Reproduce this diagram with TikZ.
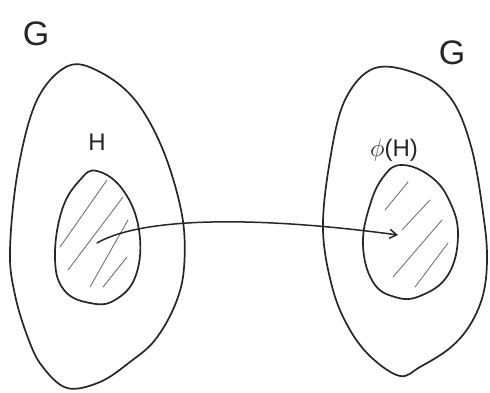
\documentclass[tikz,border=0pt]{standalone}
\usepackage{fontspec}
\setmainfont{Liberation Sans}
\usetikzlibrary{arrows.meta}
\begin{document}
\begin{tikzpicture}[x=1pt,y=-1pt,
  pen/.style={line width=1.7pt, draw=black!85, line join=round, line cap=round},
  hatch/.style={line width=0.9pt, draw=black!55, line cap=round},
  label/.style={font=\fontsize{24}{26}\selectfont, text=black!85, inner sep=0pt},
  biglabel/.style={font=\fontsize{34}{36}\selectfont, text=black!85, inner sep=0pt}]
\useasboundingbox (0,0) rectangle (490,393);

% left group G with subgroup H
\draw[pen] plot[smooth cycle, tension=0.6] coordinates {
  (68,66) (100,72) (135,100) (163,150) (182,215) (184,268) (175,305)
  (155,340) (130,362) (100,382) (67,388) (42,366) (28,338) (15,295)
  (10,250) (18,170) (37,100)};
\draw[pen] plot[smooth cycle, tension=0.7] coordinates {
  (97,171) (123,190) (139,230) (136,275) (115,300) (90,303) (64,290)
  (55,258) (62,210) (80,180)};
\draw[hatch] (60,247) -- (107,180);
\draw[hatch] (68,270) -- (123,197);
\draw[hatch] (90,287) -- (128,220);
\draw[hatch] (103,287) -- (127,257);

% right group G with the image phi(H)
\draw[pen] plot[smooth cycle, tension=0.6] coordinates {
  (375,68) (420,75) (452,100) (472,150) (484,220) (487,260) (483,295)
  (470,325) (450,348) (420,367) (400,376) (372,358) (350,330) (333,290)
  (323,230) (330,160) (345,100)};
\draw[pen] plot[smooth cycle, tension=0.7] coordinates {
  (402,165) (430,176) (449,200) (458,235) (448,275) (420,296) (395,297)
  (373,282) (363,245) (370,205) (384,176)};
\draw[hatch] (385,210) -- (408,182);
\draw[hatch] (402,230) -- (430,200);
\draw[hatch] (393,277) -- (442,220);
\draw[hatch] (415,287) -- (448,243);

% labels
\node[biglabel] (gl) at (36,34) {G};
\node[biglabel] (gr) at (452,53) {G};
\node[label] (h) at (97,142) {H};
\node[label] (ph) at (394,150) {$\phi$(H)};

% the map from H to phi(H)
\coordinate (src) at (97,243);
\coordinate (dst) at (398,235);
\draw[pen, line width=1.5pt, ->, >={Straight Barb[length=7pt,width=9pt]}]
  (src) .. controls (140,218) and (250,215) .. (dst);
\end{tikzpicture}
\end{document}
